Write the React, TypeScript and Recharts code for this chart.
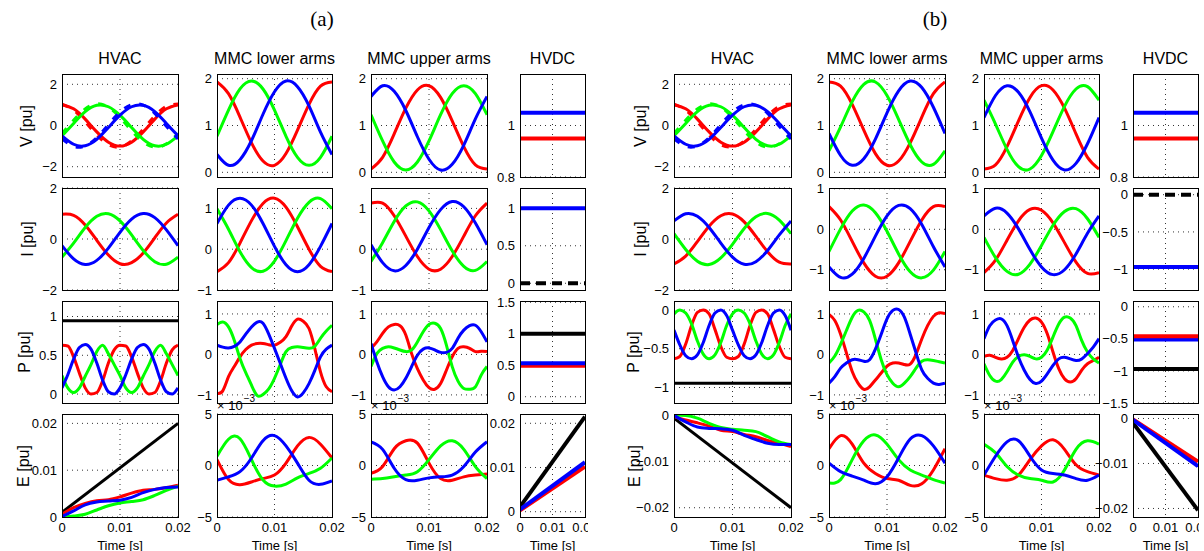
import { LineChart, Line, XAxis, YAxis, CartesianGrid } from "recharts";

// time bases
const T2 = [0, 0.02];
const T11 = [0, 0.002, 0.004, 0.006, 0.008, 0.01, 0.012, 0.014, 0.016, 0.018, 0.02];
const T21 = [
  0, 0.001, 0.002, 0.003, 0.004, 0.005, 0.006, 0.007, 0.008, 0.009, 0.01, 0.011, 0.012, 0.013,
  0.014, 0.015, 0.016, 0.017, 0.018, 0.019, 0.02,
];

const R = "#ff0000";
const G = "#00ff00";
const B = "#0000ff";
const K = "#000000";

// ---- (a) ----
const vHvac = {
  r: [1, 0.81, 0.31, -0.31, -0.81, -1, -0.81, -0.31, 0.31, 0.81, 1],
  g: [-0.5, 0.1, 0.67, 0.98, 0.91, 0.5, -0.1, -0.67, -0.98, -0.91, -0.5],
  b: [-0.5, -0.91, -0.98, -0.67, -0.1, 0.5, 0.91, 0.98, 0.67, 0.1, -0.5],
};
const vHvacRef = {
  r: [1.04, 0.75, 0.18, -0.46, -0.93, -1.04, -0.75, -0.18, 0.46, 0.93, 1.04],
  g: [-0.39, 0.25, 0.8, 1.05, 0.89, 0.39, -0.25, -0.8, -1.05, -0.89, -0.39],
  b: [-0.65, -1.01, -0.99, -0.59, 0.04, 0.65, 1.01, 0.99, 0.59, -0.04, -0.65],
};
const aVLow = {
  r: [1.93, 1.68, 1.18, 0.63, 0.24, 0.15, 0.4, 0.9, 1.45, 1.84, 1.93],
  g: [0.77, 1.33, 1.78, 1.95, 1.78, 1.33, 0.77, 0.32, 0.15, 0.32, 0.77],
  b: [0.38, 0.15, 0.27, 0.68, 1.24, 1.72, 1.95, 1.83, 1.42, 0.86, 0.38],
};
const aVUp = {
  r: [0.07, 0.32, 0.82, 1.37, 1.76, 1.85, 1.6, 1.1, 0.55, 0.16, 0.07],
  g: [1.23, 0.67, 0.22, 0.05, 0.22, 0.67, 1.23, 1.68, 1.85, 1.68, 1.23],
  b: [1.62, 1.85, 1.73, 1.32, 0.76, 0.28, 0.05, 0.17, 0.58, 1.14, 1.62],
};
const vDc = { b: [1.05, 1.05], r: [0.95, 0.95] };

const aIHvac = {
  r: [0.97, 0.93, 0.55, -0.05, -0.63, -0.97, -0.93, -0.55, 0.05, 0.63, 0.97],
  g: [-0.71, -0.16, 0.45, 0.89, 0.99, 0.71, 0.16, -0.45, -0.89, -0.99, -0.71],
  b: [-0.26, -0.78, -1.0, -0.84, -0.36, 0.26, 0.78, 1.0, 0.84, 0.36, -0.26],
};
const aILow = {
  r: [-0.55, -0.33, 0.15, 0.7, 1.12, 1.25, 1.03, 0.55, 0.0, -0.42, -0.55],
  g: [0.99, 0.49, -0.06, -0.45, -0.54, -0.29, 0.21, 0.76, 1.15, 1.24, 0.99],
  b: [0.63, 1.08, 1.25, 1.08, 0.63, 0.07, -0.38, -0.55, -0.38, 0.07, 0.63],
};
const aIUp = {
  r: [1.13, 1.13, 0.82, 0.32, -0.18, -0.49, -0.49, -0.18, 0.32, 0.82, 1.13],
  g: [-0.3, 0.16, 0.68, 1.06, 1.16, 0.94, 0.48, -0.04, -0.42, -0.52, -0.3],
  b: [0.11, -0.33, -0.53, -0.4, 0.0, 0.53, 0.97, 1.17, 1.04, 0.64, 0.11],
};
const aIDc = { k: [0, 0], b: [1, 1] };

const aPHvac = {
  r: [0.63, 0.62, 0.48, 0.27, 0.08, 0, 0.02, 0.17, 0.4, 0.57, 0.63, 0.62, 0.48, 0.27, 0.08, 0, 0.02, 0.17, 0.4, 0.57, 0.63],
  g: [0.24, 0.08, 0.02, 0.08, 0.23, 0.38, 0.55, 0.63, 0.52, 0.38, 0.24, 0.08, 0.02, 0.08, 0.23, 0.38, 0.55, 0.63, 0.52, 0.38, 0.24],
  b: [0.08, 0.25, 0.45, 0.6, 0.64, 0.58, 0.4, 0.18, 0.03, 0, 0.08, 0.25, 0.45, 0.6, 0.64, 0.58, 0.4, 0.18, 0.03, 0, 0.08],
  k: [0.945, 0.945],
};
const aPLow = {
  r: [-0.96, -0.9, -0.55, -0.3, -0.06, 0.12, 0.23, 0.27, 0.27, 0.24, 0.23, 0.3, 0.44, 0.7, 0.87, 0.82, 0.64, 0.15, -0.43, -0.8, -0.92],
  g: [0.74, 0.8, 0.68, 0.35, -0.1, -0.45, -0.76, -1.02, -0.99, -0.85, -0.59, -0.25, 0.07, 0.17, 0.19, 0.17, 0.15, 0.2, 0.4, 0.58, 0.72],
  b: [0.23, 0.18, 0.16, 0.2, 0.31, 0.5, 0.68, 0.8, 0.77, 0.5, 0.15, -0.22, -0.59, -0.9, -1.05, -0.95, -0.72, -0.4, -0.06, 0.13, 0.23],
};
const aPUp = {
  r: [0.15, 0.31, 0.52, 0.68, 0.74, 0.71, 0.48, 0.02, -0.35, -0.63, -0.82, -0.86, -0.72, -0.39, -0.06, 0.15, 0.19, 0.15, 0.07, 0.08, 0.07],
  g: [-0.3, 0.02, 0.15, 0.19, 0.16, 0.11, 0.07, 0.11, 0.31, 0.56, 0.74, 0.77, 0.64, 0.23, -0.3, -0.66, -0.84, -0.86, -0.8, -0.51, -0.3],
  b: [0.27, -0.18, -0.55, -0.8, -0.88, -0.8, -0.59, -0.3, -0.02, 0.13, 0.16, 0.11, 0.05, 0.05, 0.15, 0.4, 0.6, 0.71, 0.72, 0.56, 0.31],
};
const aPDc = { k: [1, 1], r: [0.49, 0.49], b: [0.53, 0.53] };

const aEHvac = {
  k: [0.001, 0.02],
  r: [0.0006, 0.002, 0.0029, 0.0035, 0.0037, 0.0043, 0.0051, 0.0057, 0.0059, 0.0063, 0.0068],
  g: [0, 0.0002, 0.0006, 0.0015, 0.0024, 0.003, 0.0033, 0.0037, 0.0046, 0.0057, 0.0066],
  b: [0.0001, 0.0013, 0.0026, 0.0032, 0.0034, 0.0036, 0.0042, 0.0052, 0.0059, 0.0063, 0.0064],
};
// MMC energies in units of 1e-3
const aELow = {
  r: [0.57, -1.37, -1.87, -1.6, -1.27, -0.93, 0.23, 1.9, 2.73, 2.07, 0.73],
  g: [0.9, 2.55, 2.6, 0.57, -1.4, -2.0, -1.8, -1.2, -0.77, -0.27, 0.73],
  b: [-1.43, -1.1, -0.6, 0.73, 2.4, 2.9, 1.9, 0.23, -1.43, -1.83, -1.5],
};
const aEUp = {
  r: [-0.77, -0.1, 1.63, 2.4, 2.17, 0.23, -1.27, -1.43, -1.1, -0.93, -0.83],
  g: [-1.33, -1.27, -1.1, -0.93, -0.6, 0.57, 1.9, 2.4, 1.57, -0.1, -1.27],
  b: [2.3, 1.57, -0.27, -1.37, -1.43, -1.2, -1.1, -0.93, -0.1, 1.3, 2.3],
};
const aEDc = { k: [0.0011, 0.0215], r: [0.0003, 0.0102], b: [0.0005, 0.0112] };

// ---- (b) ----
const bVLow = {
  r: [1.93, 1.84, 1.45, 0.9, 0.4, 0.15, 0.24, 0.63, 1.18, 1.68, 1.93],
  g: [0.46, 0.97, 1.51, 1.88, 1.93, 1.64, 1.13, 0.59, 0.22, 0.17, 0.46],
  b: [0.83, 0.36, 0.15, 0.29, 0.71, 1.27, 1.74, 1.95, 1.81, 1.39, 0.83],
};
const bVUp = {
  r: [0.07, 0.16, 0.55, 1.1, 1.6, 1.85, 1.76, 1.37, 0.82, 0.32, 0.07],
  g: [1.54, 1.03, 0.49, 0.12, 0.07, 0.36, 0.87, 1.41, 1.78, 1.83, 1.54],
  b: [1.17, 1.64, 1.85, 1.71, 1.29, 0.73, 0.26, 0.05, 0.19, 0.61, 1.17],
};
const bIHvac = {
  r: [-0.98, -0.67, -0.1, 0.5, 0.91, 0.98, 0.67, 0.1, -0.5, -0.91, -0.98],
  g: [0.21, -0.41, -0.87, -1.0, -0.74, -0.21, 0.41, 0.87, 1.0, 0.74, 0.21],
  b: [0.71, 0.99, 0.89, 0.45, -0.16, -0.71, -0.99, -0.89, -0.45, 0.16, 0.71],
};
const bILow = {
  r: [0.56, 0.23, -0.3, -0.83, -1.16, -1.16, -0.83, -0.3, 0.23, 0.56, 0.56],
  g: [-0.55, 0.01, 0.45, 0.6, 0.41, -0.05, -0.61, -1.05, -1.2, -1.01, -0.55],
  b: [-0.93, -1.19, -1.11, -0.72, -0.17, 0.33, 0.59, 0.51, 0.12, -0.43, -0.93],
};
const bIUp = {
  r: [-1.07, -0.76, -0.27, 0.21, 0.49, 0.47, 0.16, -0.33, -0.81, -1.09, -1.07],
  g: [-0.2, -0.7, -1.04, -1.11, -0.86, -0.4, 0.1, 0.44, 0.51, 0.26, -0.2],
  b: [0.33, 0.52, 0.4, 0.01, -0.5, -0.93, -1.12, -1.0, -0.61, -0.1, 0.33],
};
const bIDc = { k: [0, 0], b: [-0.97, -0.97] };

const bPHvac = {
  r: [-0.63, -0.6, -0.44, -0.2, -0.03, 0, -0.05, -0.25, -0.47, -0.61, -0.63, -0.6, -0.44, -0.2, -0.03, 0, -0.05, -0.25, -0.47, -0.61, -0.63],
  g: [-0.05, 0, -0.04, -0.18, -0.4, -0.57, -0.63, -0.58, -0.42, -0.2, -0.05, 0, -0.04, -0.18, -0.4, -0.57, -0.63, -0.58, -0.42, -0.2, -0.05],
  b: [-0.26, -0.45, -0.59, -0.63, -0.58, -0.42, -0.2, -0.04, 0, -0.07, -0.26, -0.45, -0.59, -0.63, -0.58, -0.42, -0.2, -0.04, 0, -0.07, -0.26],
  k: [-0.944, -0.944],
};
const bPLow = {
  r: [0.99, 0.84, 0.5, 0.04, -0.42, -0.71, -0.86, -0.8, -0.63, -0.46, -0.29, -0.21, -0.21, -0.25, -0.24, 0.0, 0.38, 0.71, 0.94, 1.03, 1.01],
  g: [-0.21, -0.04, 0.25, 0.59, 0.92, 1.09, 1.05, 0.84, 0.38, -0.13, -0.5, -0.71, -0.8, -0.71, -0.55, -0.34, -0.17, -0.13, -0.15, -0.18, -0.21],
  b: [-0.71, -0.55, -0.34, -0.21, -0.13, -0.13, -0.17, -0.13, 0.13, 0.5, 0.88, 1.09, 1.11, 0.92, 0.5, 0.04, -0.38, -0.59, -0.71, -0.74, -0.71],
};
const bPUp = {
  r: [-0.05, -0.02, -0.07, -0.11, -0.07, 0.1, 0.39, 0.67, 0.85, 0.9, 0.8, 0.51, 0.06, -0.35, -0.6, -0.68, -0.6, -0.39, -0.23, -0.15, -0.07],
  g: [-0.23, -0.52, -0.66, -0.62, -0.43, -0.19, -0.05, -0.01, -0.05, -0.11, -0.07, 0.11, 0.43, 0.75, 0.92, 0.9, 0.71, 0.34, 0.06, -0.11, -0.21],
  b: [0.39, 0.71, 0.85, 0.88, 0.71, 0.34, -0.07, -0.39, -0.62, -0.72, -0.66, -0.48, -0.27, -0.11, -0.07, -0.11, -0.15, -0.11, 0.02, 0.18, 0.39],
};
const bPDc = { k: [-0.97, -0.97], r: [-0.46, -0.46], b: [-0.51, -0.51] };

const bEHvac = {
  k: [-0.0007, -0.02],
  r: [-0.0004, -0.0011, -0.0017, -0.0024, -0.0033, -0.0036, -0.0042, -0.0047, -0.0055, -0.0061, -0.0068],
  g: [0, -0.0001, -0.0007, -0.0018, -0.0027, -0.0031, -0.0033, -0.0036, -0.0047, -0.0058, -0.0064],
  b: [-0.0001, -0.0015, -0.0026, -0.0029, -0.003, -0.0033, -0.0044, -0.0053, -0.0061, -0.0064, -0.0064],
};
const bELow = {
  r: [1.63, 2.9, 2.07, 0.23, -0.77, -1.27, -1.43, -1.93, -1.77, -0.43, 1.63],
  g: [-1.7, -1.37, 0.57, 2.4, 2.97, 2.07, 0.57, -0.43, -0.93, -1.37, -1.7],
  b: [0.23, -0.6, -1.03, -1.43, -1.77, -1.1, 0.73, 2.57, 2.9, 1.9, 0.23],
};
const bEUp = {
  r: [-0.93, -1.27, -1.43, -0.93, 0.57, 1.9, 2.5, 1.57, 0.07, -0.6, -0.93],
  g: [2.07, 1.23, -0.1, -0.93, -1.27, -1.43, -1.6, -0.43, 1.57, 2.4, 2.07],
  b: [-0.93, 0.9, 2.3, 2.4, 0.9, -0.43, -0.77, -0.93, -1.27, -1.43, -0.93],
};
const bEDc = { k: [-0.001, -0.0204], r: [-0.0002, -0.0096], b: [-0.0003, -0.0106] };

const COL_TITLES = ["HVAC", "MMC lower arms", "MMC upper arms", "HVDC"];
const ROW_LABELS = ["V [pu]", "I [pu]", "P [pu]", "E [pu]"];

// layout
const ROW_Y = [74, 188, 301, 414];
const ROW_H = [103, 102, 102, 103];
const COLS_A: [number, number][] = [[62, 116], [217, 115], [371, 116], [520, 65]];
const COLS_B: [number, number][] = [[674, 117], [829, 116], [984, 115], [1133, 65]];

type Ln = { v: number[]; c: string; d?: string; w?: number };
type Cfg = { row: number; col: number; dom: [number, number]; ticks: number[]; lines: Ln[]; curve?: "natural" | "monotone" };

const rgb = (s: { r: number[]; g: number[]; b: number[] }, w?: number): Ln[] => [
  { v: s.r, c: R, w },
  { v: s.g, c: G, w },
  { v: s.b, c: B, w },
];
const vLines = (): Ln[] => [
  { v: vHvac.r, c: R },
  { v: vHvacRef.r, c: R, d: "7 9" },
  { v: vHvac.g, c: G },
  { v: vHvacRef.g, c: G, d: "7 9" },
  { v: vHvac.b, c: B },
  { v: vHvacRef.b, c: B, d: "7 9" },
];

const PLOTS_A: Cfg[] = [
  { row: 0, col: 0, dom: [-2.5, 2.5], ticks: [-2, 0, 2], lines: vLines(), curve: "natural" },
  { row: 0, col: 1, dom: [-0.1, 2.1], ticks: [0, 1, 2], lines: rgb(aVLow), curve: "natural" },
  { row: 0, col: 2, dom: [-0.1, 2.1], ticks: [0, 1, 2], lines: rgb(aVUp), curve: "natural" },
  { row: 0, col: 3, dom: [0.8, 1.2], ticks: [0.8, 1], lines: [{ v: vDc.r, c: R, w: 4 }, { v: vDc.b, c: B, w: 4 }] },
  { row: 1, col: 0, dom: [-2, 2], ticks: [-2, 0, 2], lines: rgb(aIHvac), curve: "natural" },
  { row: 1, col: 1, dom: [-1, 1.5], ticks: [-1, 0, 1], lines: rgb(aILow), curve: "natural" },
  { row: 1, col: 2, dom: [-1, 1.5], ticks: [-1, 0, 1], lines: rgb(aIUp), curve: "natural" },
  { row: 1, col: 3, dom: [-0.09, 1.27], ticks: [0, 0.5, 1], lines: [{ v: aIDc.b, c: B, w: 4 }, { v: aIDc.k, c: K, w: 4, d: "10 6" }] },
  { row: 2, col: 0, dom: [-0.115, 1.2], ticks: [0, 0.5, 1], lines: [{ v: aPHvac.k, c: K }, ...rgb(aPHvac)] },
  { row: 2, col: 1, dom: [-1.2, 1.32], ticks: [-1, 0, 1], lines: rgb(aPLow), curve: "natural" },
  { row: 2, col: 2, dom: [-1.2, 1.32], ticks: [-1, 0, 1], lines: rgb(aPUp), curve: "natural" },
  { row: 2, col: 3, dom: [-0.1, 1.52], ticks: [0, 0.5, 1, 1.5], lines: [{ v: aPDc.k, c: K, w: 4 }, { v: aPDc.r, c: R, w: 4 }, { v: aPDc.b, c: B, w: 4 }] },
  { row: 3, col: 0, dom: [0, 0.022], ticks: [0, 0.01, 0.02], lines: [{ v: aEHvac.k, c: K }, ...rgb(aEHvac)] },
  { row: 3, col: 1, dom: [-5, 5], ticks: [-5, 0, 5], lines: rgb(aELow), curve: "natural" },
  { row: 3, col: 2, dom: [-5, 5], ticks: [-5, 0, 5], lines: rgb(aEUp), curve: "natural" },
  { row: 3, col: 3, dom: [-0.0012, 0.0221], ticks: [0, 0.01, 0.02], lines: [{ v: aEDc.k, c: K, w: 4 }, { v: aEDc.r, c: R, w: 4 }, { v: aEDc.b, c: B, w: 4 }] },
];

const PLOTS_B: Cfg[] = [
  { row: 0, col: 0, dom: [-2.5, 2.5], ticks: [-2, 0, 2], lines: vLines(), curve: "natural" },
  { row: 0, col: 1, dom: [-0.1, 2.1], ticks: [0, 1, 2], lines: rgb(bVLow), curve: "natural" },
  { row: 0, col: 2, dom: [-0.1, 2.1], ticks: [0, 1, 2], lines: rgb(bVUp), curve: "natural" },
  { row: 0, col: 3, dom: [0.8, 1.2], ticks: [0.8, 1], lines: [{ v: vDc.r, c: R, w: 4 }, { v: vDc.b, c: B, w: 4 }] },
  { row: 1, col: 0, dom: [-2, 2], ticks: [-2, 0, 2], lines: rgb(bIHvac), curve: "natural" },
  { row: 1, col: 1, dom: [-1.5, 1.02], ticks: [-1, 0, 1], lines: rgb(bILow), curve: "natural" },
  { row: 1, col: 2, dom: [-1.5, 1.02], ticks: [-1, 0, 1], lines: rgb(bIUp), curve: "natural" },
  { row: 1, col: 3, dom: [-1.28, 0.09], ticks: [-1, -0.5, 0], lines: [{ v: bIDc.b, c: B, w: 4 }, { v: bIDc.k, c: K, w: 4, d: "10 6" }] },
  { row: 2, col: 0, dom: [-1.2, 0.116], ticks: [-1, -0.5, 0], lines: [{ v: bPHvac.k, c: K }, ...rgb(bPHvac)] },
  { row: 2, col: 1, dom: [-1.2, 1.32], ticks: [-1, 0, 1], lines: rgb(bPLow), curve: "natural" },
  { row: 2, col: 2, dom: [-1.2, 1.32], ticks: [-1, 0, 1], lines: rgb(bPUp), curve: "natural" },
  { row: 2, col: 3, dom: [-1.5, 0.09], ticks: [-1.5, -1, -0.5, 0], lines: [{ v: bPDc.k, c: K, w: 4 }, { v: bPDc.b, c: B, w: 4 }, { v: bPDc.r, c: R, w: 4 }] },
  { row: 3, col: 0, dom: [-0.022, 0.0002], ticks: [-0.02, -0.01, 0], lines: [{ v: bEHvac.k, c: K }, ...rgb(bEHvac)] },
  { row: 3, col: 1, dom: [-5, 5], ticks: [-5, 0, 5], lines: rgb(bELow), curve: "natural" },
  { row: 3, col: 2, dom: [-5, 5], ticks: [-5, 0, 5], lines: rgb(bEUp), curve: "natural" },
  { row: 3, col: 3, dom: [-0.0219, 0.001], ticks: [-0.02, -0.01, 0], lines: [{ v: bEDc.k, c: K, w: 4 }, { v: bEDc.r, c: R, w: 4 }, { v: bEDc.b, c: B, w: 4 }] },
];

const fmt = (v: number) => (v < 0 ? "\u2212" + String(-v) : String(v));
const timeOf = (n: number) => (n === 2 ? T2 : n === 11 ? T11 : T21);
const TICK = { fontSize: 13, fill: "#000" };

function Plot({ x, y, w, h, cfg, bottom }: { x: number; y: number; w: number; h: number; cfg: Cfg; bottom: boolean }) {
  const ML = 50;
  const MR = 16;
  const MT = 10;
  const MB = bottom ? 24 : 10;
  return (
    <div style={{ position: "absolute", left: x - ML, top: y - MT }}>
      <LineChart
        width={w + ML + MR}
        height={h + MT + MB}
        margin={{ top: MT, right: MR, bottom: bottom ? 0 : MB, left: 0 }}
      >
        <CartesianGrid
          stroke="#000"
          strokeWidth={0.8}
          strokeDasharray="1 4"
          horizontalValues={cfg.ticks}
          verticalValues={[0.01]}
        />
        <XAxis
          type="number"
          dataKey="t"
          domain={[0, 0.02]}
          ticks={[0, 0.01, 0.02]}
          allowDataOverflow
          interval={0}
          hide={!bottom}
          height={bottom ? MB : 0}
          tickLine={false}
          axisLine={false}
          tickSize={0}
          tickMargin={6}
          tick={TICK}
          tickFormatter={fmt}
        />
        <YAxis
          type="number"
          domain={cfg.dom}
          ticks={cfg.ticks}
          allowDataOverflow
          interval={0}
          width={ML}
          tickLine={false}
          axisLine={false}
          tickSize={0}
          tickMargin={5}
          tick={TICK}
          tickFormatter={fmt}
        />
        {cfg.lines.map((l, i) => (
          <Line
            key={i}
            data={timeOf(l.v.length).map((t, j) => ({ t, v: l.v[j] }))}
            dataKey="v"
            type={cfg.curve ?? "monotone"}
            stroke={l.c}
            strokeWidth={l.w ?? 3}
            strokeDasharray={l.d}
            dot={false}
            activeDot={false}
            isAnimationActive={false}
          />
        ))}
      </LineChart>
      <div
        style={{
          position: "absolute",
          left: ML - 0.5,
          top: MT - 0.5,
          width: w + 1,
          height: h + 1,
          border: "1.4px solid #000",
          boxSizing: "border-box",
          pointerEvents: "none",
        }}
      />
    </div>
  );
}

const center = (cx: number, cy: number, extra: React.CSSProperties = {}): React.CSSProperties => ({
  position: "absolute",
  left: cx,
  top: cy,
  transform: "translate(-50%, -50%)",
  whiteSpace: "nowrap",
  ...extra,
});

function Panel({ off, width, cols, plots, ylx }: { off: number; width: number; cols: [number, number][]; plots: Cfg[]; ylx: number[] }) {
  return (
    <div style={{ position: "absolute", left: off, top: 0, width, height: 551, overflow: "hidden" }}>
      {plots.map((p, i) => (
        <Plot
          key={i}
          x={cols[p.col][0] - off}
          y={ROW_Y[p.row]}
          w={cols[p.col][1]}
          h={ROW_H[p.row]}
          cfg={p}
          bottom={p.row === 3}
        />
      ))}
      {COL_TITLES.map((t, i) => (
        <div key={t} style={center(cols[i][0] - off + cols[i][1] / 2, 59, { fontSize: 16 })}>
          {t}
        </div>
      ))}
      {ROW_LABELS.map((t, i) => (
        <div
          key={t}
          style={center(ylx[i] - off, ROW_Y[i] + ROW_H[i] / 2, {
            fontSize: 16,
            transform: "translate(-50%, -50%) rotate(-90deg)",
          })}
        >
          {t}
        </div>
      ))}
      {cols.map((c, i) => (
        <div key={i} style={center(c[0] - off + c[1] / 2, 545, { fontSize: 13 })}>
          Time [s]
        </div>
      ))}
      {[1, 2].map((i) => (
        <div key={i} style={{ position: "absolute", left: cols[i][0] - off, top: 398, fontSize: 13, whiteSpace: "nowrap" }}>
          {"\u00d7 10"}
          <span style={{ position: "relative", top: -8, fontSize: 10, marginLeft: 1 }}>{"\u22123"}</span>
        </div>
      ))}
    </div>
  );
}

export default function App() {
  return (
    <div
      style={{
        position: "absolute",
        left: 0,
        top: 0,
        width: 1204,
        height: 551,
        background: "#fff",
        fontFamily: "'Liberation Sans', Arial, sans-serif",
        color: "#000",
        overflow: "hidden",
      }}
    >
      <div style={center(322, 19, { fontFamily: "'Liberation Serif', 'Times New Roman', serif", fontSize: 21 })}>(a)</div>
      <div style={center(935, 19, { fontFamily: "'Liberation Serif', 'Times New Roman', serif", fontSize: 21 })}>(b)</div>
      <Panel off={0} width={588} cols={COLS_A} plots={PLOTS_A} ylx={[27, 28, 25, 24]} />
      <Panel off={598} width={601} cols={COLS_B} plots={PLOTS_B} ylx={[641, 641, 634, 635]} />
    </div>
  );
}
